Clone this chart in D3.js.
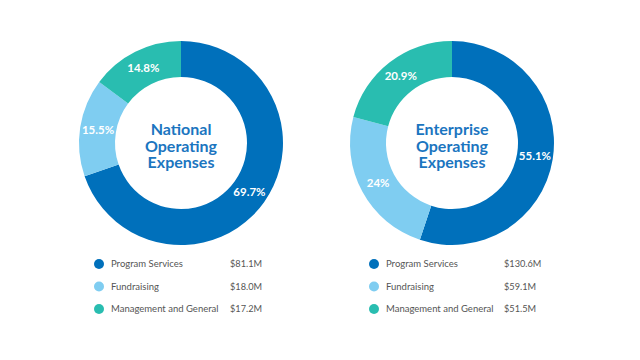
<!DOCTYPE html>
<html><head><meta charset="utf-8">
<script src="https://cdn.jsdelivr.net/npm/d3@7"></script>
<style>html,body{margin:0;padding:0;background:#fff;}svg{display:block;}</style>
</head><body>
<svg id="c" width="640" height="360"></svg>
<script>
const categories = ["Program Services", "Fundraising", "Management and General"];
const colors = ["#0070BB", "#7FCDF1", "#29BDB0"];
const titles = [["National", "Operating", "Expenses"], ["Enterprise", "Operating", "Expenses"]];
const nationalPercent = [69.7, 15.5, 14.8];
const enterprisePercent = [55.1, 24, 20.9];
const nationalAmounts = ["$81.1M", "$18.0M", "$17.2M"];
const enterpriseAmounts = ["$130.6M", "$59.1M", "$51.5M"];

const charts = [
  {pct: nationalPercent, amt: nationalAmounts, title: titles[0], cx: 181, lx: 99, vx: 230},
  {pct: enterprisePercent, amt: enterpriseAmounts, title: titles[1], cx: 452, lx: 374, vx: 504}
];
const svg = d3.select("#c");
const cy = 143, rOut = 102, rIn = 66;
const pie = d3.pie().sort(null).value(d => d);
const arc = d3.arc().innerRadius(rIn).outerRadius(rOut);
const labelArc = d3.arc().innerRadius(84).outerRadius(84);
const rowY = d3.scalePoint().domain(categories).range([264, 309]);

charts.forEach(c => {
  const g = svg.append("g").attr("transform", `translate(${c.cx},${cy})`);
  const arcs = pie(c.pct);
  g.selectAll("path").data(arcs).join("path")
    .attr("d", arc).attr("fill", (d, i) => colors[i]);
  g.selectAll("text.pct").data(arcs).join("text").attr("class", "pct")
    .attr("transform", d => `translate(${labelArc.centroid(d)})`)
    .attr("text-anchor", "middle").attr("dy", "0.35em")
    .attr("fill", "#fff").attr("font-family", "Lato, sans-serif")
    .attr("font-weight", "bold").attr("font-size", 11.5)
    .text(d => d.data + "%");
  const t = g.append("text").attr("class", "title")
    .attr("text-anchor", "middle")
    .attr("fill", "#1B75C0").attr("font-family", "Lato, sans-serif")
    .attr("font-weight", "bold").attr("font-size", 16);
  t.selectAll("tspan").data(c.title).join("tspan")
    .attr("x", 0).attr("y", (d, i) => (i - 1) * 16.5 + 8.5)
    .text(d => d);
  const lg = svg.append("g");
  const rows = lg.selectAll("g").data(categories).join("g")
    .attr("transform", d => `translate(0,${rowY(d)})`);
  rows.append("circle").attr("cx", c.lx).attr("r", 5).attr("fill", (d, i) => colors[i]);
  rows.append("text").attr("x", c.lx + 12).attr("dy", "0.35em")
    .attr("fill", "#555").attr("font-family", "Lato, sans-serif").attr("font-size", 9.5)
    .text(d => d);
  rows.append("text").attr("x", c.vx).attr("dy", "0.35em")
    .attr("fill", "#555").attr("font-family", "Lato, sans-serif").attr("font-size", 9.2)
    .text((d, i) => c.amt[i]);
});
</script>
</body></html>
